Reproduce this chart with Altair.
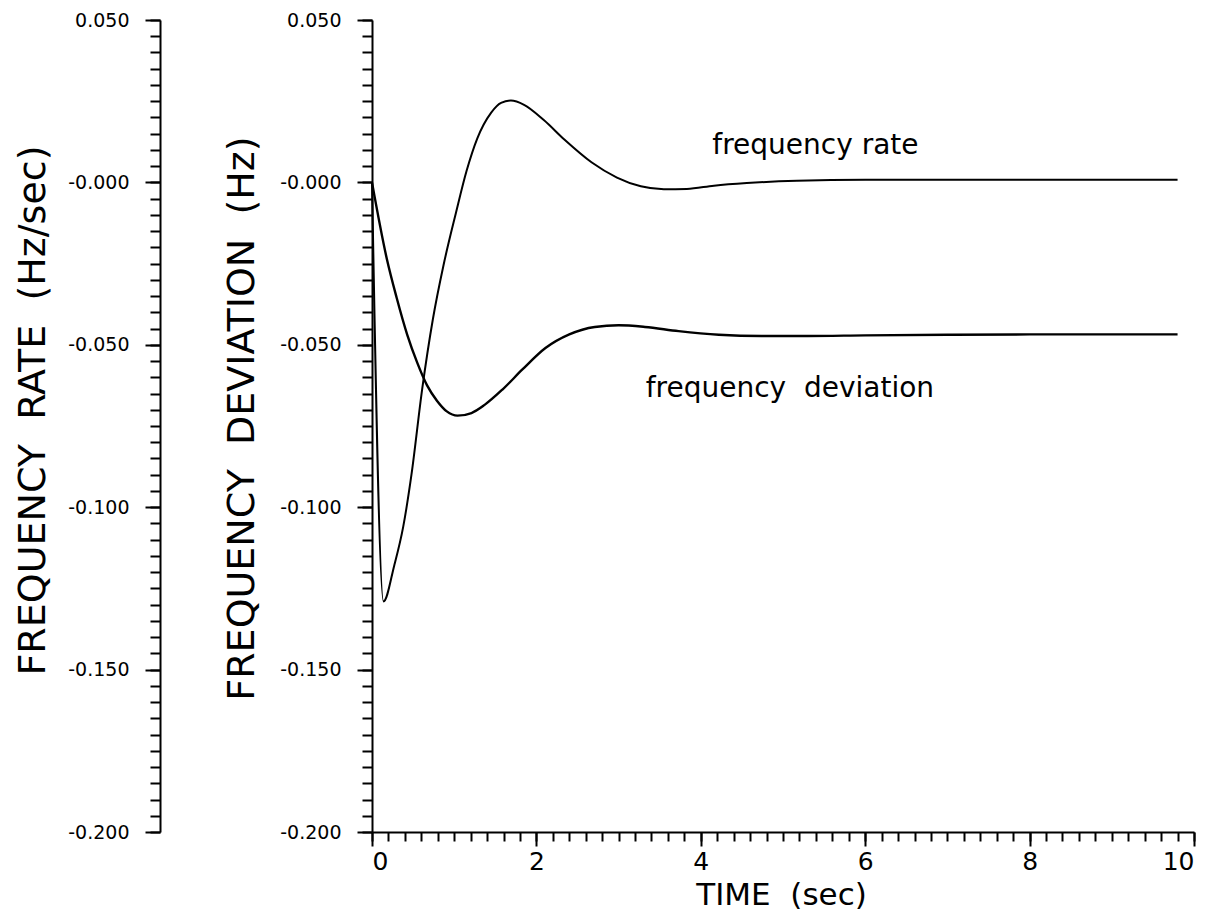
import altair as alt
import pandas as pd

# ---- data ----
time_dev = [0, 0.18, 0.30, 0.43, 0.55, 0.67, 0.79, 0.91, 1.04, 1.21, 1.37, 1.59, 1.83,
            2.11, 2.40, 2.71, 3.0, 3.32, 3.73, 4.22, 4.74, 5.3, 6.0, 7.0, 8.0, 9.0, 9.8]
freq_dev = [0, -0.0235, -0.0355, -0.047, -0.0555, -0.0625, -0.0672, -0.0705, -0.0718,
            -0.0710, -0.0685, -0.0637, -0.0576, -0.0510, -0.0468, -0.0445, -0.0440,
            -0.0445, -0.0458, -0.0469, -0.0473, -0.0473, -0.0471, -0.0469, -0.0468,
            -0.0468, -0.0468]

time_rate = [0, 0.14, 0.27, 0.38, 0.48, 0.61, 0.74, 0.87, 1.02, 1.15, 1.28, 1.45,
             1.57, 1.69, 1.85, 2.09, 2.34, 2.67, 2.98, 3.27, 3.55, 3.83, 4.16, 4.56,
             5.17, 6.0, 7.0, 8.0, 9.0, 9.8]
freq_rate = [0, -0.129, -0.118, -0.106, -0.090, -0.0637, -0.0422, -0.0255, -0.0095,
             0.0035, 0.0135, 0.0215, 0.0245, 0.0252, 0.0239, 0.0192, 0.0132, 0.0062,
             0.0015, -0.0012, -0.0021, -0.0020, -0.0010, -0.0002, 0.0005, 0.0008,
             0.0008, 0.0008, 0.0008, 0.0008]

label_text = ["frequency rate", "frequency\u00a0\u00a0deviation"]
label_time = [4.14, 3.33]
label_value = [0.0086, -0.0662]

x_major = [0, 2, 4, 6, 8, 10]
x_minor = [round(i * 0.2, 1) for i in range(51)]
y_major = [0.05, 0.0, -0.05, -0.1, -0.15, -0.2]
y_minor = [round(i * 0.005, 3) for i in range(-40, 11)]

dev_df = pd.DataFrame({"t": time_dev, "v": freq_dev})
rate_df = pd.DataFrame({"t": time_rate, "v": freq_rate})
lab_df = pd.DataFrame({"t": label_time, "v": label_value, "txt": label_text})

FONT = "DejaVu Sans"
xscale = alt.Scale(domain=[0, 10], nice=False, zero=False)
yscale = alt.Scale(domain=[-0.2, 0.05], nice=False, zero=False)
ylab = "datum.value > 0.001 ? format(datum.value, '.3f') : '-' + format(abs(datum.value), '.3f')"
SP = "\u00a0\u00a0"


def y_major_axis(title, offset, title_x, title_y):
    return alt.Axis(orient="left", offset=offset, values=y_major, tickSize=15,
                    tickWidth=2, tickColor="black", domain=True, domainWidth=2,
                    domainColor="black", labelExpr=ylab, labelFont=FONT,
                    labelFontSize=19, labelColor="black", labelPadding=16,
                    grid=False, title=title, titleFont=FONT, titleFontSize=38,
                    titleFontWeight="normal", titleColor="black", titleAngle=-90,
                    titleX=title_x, titleY=title_y, titleAlign="center",
                    titleBaseline="alphabetic")


def y_minor_axis(offset):
    return alt.Axis(orient="left", offset=offset, values=y_minor, tickSize=10,
                    tickWidth=2, tickColor="black", domain=False, labels=False,
                    grid=False, title=None)


x_major_axis = alt.Axis(orient="bottom", values=x_major, tickSize=14, tickWidth=2,
                        tickColor="black", domain=True, domainWidth=2,
                        domainColor="black", format="d", labelFont=FONT,
                        labelFontSize=25, labelColor="black", labelPadding=3,
                        grid=False, title="TIME" + SP + "(sec)", titleFont=FONT,
                        titleFontSize=31, titleFontWeight="normal",
                        titleColor="black", titleX=409, titleY=72,
                        titleAlign="center", titleBaseline="alphabetic")
x_minor_axis = alt.Axis(orient="bottom", values=x_minor, tickSize=9, tickWidth=2,
                        tickColor="black", domain=False, labels=False, grid=False,
                        title=None)

dev_line = alt.Chart(dev_df).mark_line(
    color="black", strokeWidth=2.4, interpolate="monotone"
).encode(
    x=alt.X("t:Q", scale=xscale, axis=x_major_axis),
    y=alt.Y("v:Q", scale=yscale,
            axis=y_major_axis("FREQUENCY" + SP + "DEVIATION" + SP + "(Hz)", 0, -119, 398)),
)

rate_line = alt.Chart(rate_df).mark_line(
    color="black", strokeWidth=2, interpolate="monotone"
).encode(
    x=alt.X("t:Q", scale=xscale, axis=None),
    y=alt.Y("v:Q", scale=yscale,
            axis=y_major_axis("FREQUENCY" + SP + "RATE" + SP + "(Hz/sec)", 212, -116, 390)),
)

dev_minor = alt.Chart(dev_df).mark_line(opacity=0).encode(
    x=alt.X("t:Q", scale=xscale, axis=x_minor_axis),
    y=alt.Y("v:Q", scale=yscale, axis=y_minor_axis(0)),
)

rate_minor = alt.Chart(rate_df).mark_line(opacity=0).encode(
    x=alt.X("t:Q", scale=xscale, axis=None),
    y=alt.Y("v:Q", scale=yscale, axis=y_minor_axis(212)),
)

labels = alt.Chart(lab_df).mark_text(
    align="left", baseline="alphabetic", font=FONT, fontSize=28, color="black"
).encode(
    x=alt.X("t:Q", scale=xscale, axis=None),
    y=alt.Y("v:Q", scale=yscale, axis=None),
    text="txt:N",
)

chart = alt.layer(dev_line, rate_line, dev_minor, rate_minor, labels).resolve_axis(
    x="independent", y="independent"
).properties(
    width=822,
    height=812,
    autosize=alt.AutoSizeParams(type="none"),
    padding={"left": 364, "top": 12, "right": 13, "bottom": 79},
    background="white",
).configure_view(stroke="transparent")

chart.save("out.html", embed_options={"renderer": "svg", "actions": False})
